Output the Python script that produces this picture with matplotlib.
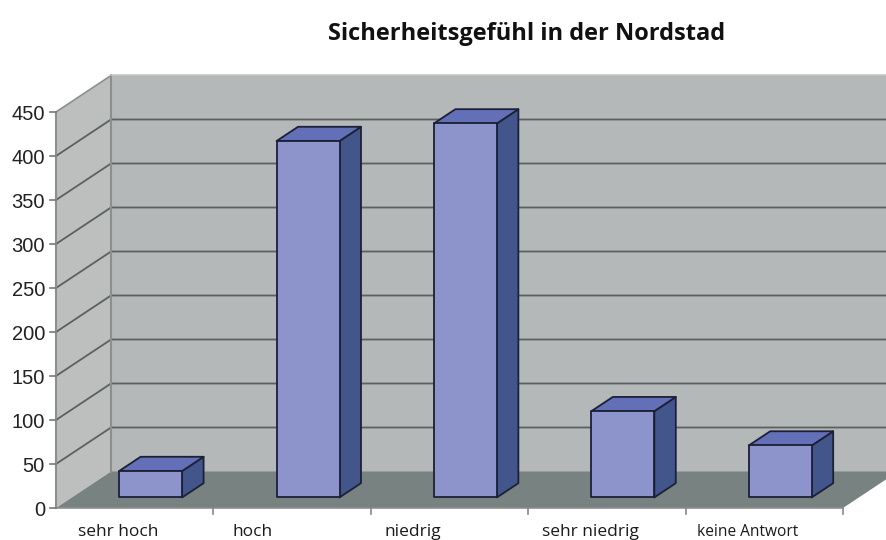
import numpy as np
import matplotlib.pyplot as plt
from matplotlib.patches import Polygon

title = 'Sicherheitsgefühl in der Nordstad'
categories = ['sehr hoch', 'hoch', 'niedrig', 'sehr niedrig', 'keine Antwort']
values = [30, 405, 425, 98, 59]
y_ticks = [0, 50, 100, 150, 200, 250, 300, 350, 400, 450]
y_top = 450

# pixel layout of the picture
W, H = 887, 540
x0_px, y0_px = 56, 508        # front corner of the floor
cat_px = 157.4                # one category
val_px = 0.88                 # one value unit
dx_cat = 55 / cat_px          # full depth, in category units
dy_val = 36.5 / val_px        # full depth, in value units
bar_w = 0.40
d_front, d_back = 0.29, 0.68

wall_back = '#b5b8b8'
wall_side = '#bcbfbe'
floor_col = '#788280'
bar_front = '#8c94cb'
bar_top = '#6370b8'
bar_side = '#43568c'
grid_col = '#5c6061'
edge_col = '#8b8f8f'
dark = '#1c2036'

fig = plt.figure(figsize=(W / 100, H / 100), dpi=100)
ax = fig.add_axes([0, 0, 1, 1])
ax.set_xlim(-x0_px / cat_px, (W - x0_px) / cat_px)
ax.set_ylim(-(H - y0_px) / val_px, y0_px / val_px)
ax.axis('off')


def proj(x, v, d):
    # oblique projection: d=0 front, d=1 back wall
    return (x + d * dx_cat, v + d * dy_val)


def face(pts, color, ec=None, lw=0, z=1):
    ax.add_patch(Polygon(pts, closed=True, fc=color, ec=ec or color, lw=lw, zorder=z,
                         joinstyle='round'))


n = len(categories)
# walls and floor
face([proj(0, 0, 1), proj(n + 1, 0, 1), proj(n + 1, y_top, 1), proj(0, y_top, 1)], wall_back)
face([proj(0, 0, 0), proj(0, 0, 1), proj(0, y_top, 1), proj(0, y_top, 0)], wall_side)
face([proj(0, 0, 0), proj(n, 0, 0), proj(n, 0, 1), proj(0, 0, 1)], floor_col, z=1.5)

# grid, the top one is only the lighter wall edge
for v in y_ticks[1:-1]:
    xs, ys = zip(proj(0, v, 0), proj(0, v, 1), proj(n + 1, v, 1))
    ax.plot(xs, ys, color=grid_col, lw=1.3, zorder=2)

# wall edges
ax.plot(*zip(proj(0, 0, 1), proj(0, y_top, 1)), color=edge_col, lw=1.5, zorder=2)
ax.plot(*zip(proj(0, 0, 0), proj(0, y_top, 0)), color=edge_col, lw=1.5, zorder=2)
ax.plot(*zip(proj(0, y_top, 0), proj(0, y_top, 1)), color=edge_col, lw=1.2, zorder=2)
ax.plot(*zip(proj(0, y_top, 1), proj(n + 1, y_top, 1)), color='#c4c6c6', lw=1.2, zorder=2)
ax.plot(*zip(proj(0, 0, 0), proj(n, 0, 0)), color=edge_col, lw=1.2, zorder=2)

# y ticks + labels
for v in y_ticks:
    xa, ya = proj(0, v, 0)
    ax.plot([xa - 6 / cat_px, xa], [ya, ya], color='#777777', lw=1.2, zorder=2)
    ax.text(xa - 11 / cat_px, ya - 3 / val_px, str(v), ha='right', va='center',
            family='Liberation Sans', fontsize=14.5, color='#222222')

# category ticks
for i in range(1, n + 1):
    ax.plot([i, i], [0, -6 / val_px], color='#888888', lw=1.2, zorder=2)

# bars
for i, v in enumerate(values):
    l = i + 0.5 - bar_w / 2
    r = i + 0.5 + bar_w / 2
    front = [proj(l, 0, d_front), proj(r, 0, d_front), proj(r, v, d_front), proj(l, v, d_front)]
    side = [proj(r, 0, d_front), proj(r, 0, d_back), proj(r, v, d_back), proj(r, v, d_front)]
    top = [proj(l, v, d_front), proj(r, v, d_front), proj(r, v, d_back), proj(l, v, d_back)]
    face(side, bar_side, dark, 1.3, 3)
    face(top, bar_top, dark, 1.3, 3)
    face(front, bar_front, dark, 1.3, 3.1)

# category labels sit off-centre in the picture
label_px = [118, 253, 413, 590, 748]
label_size = [12.5, 12.5, 12.5, 12.5, 11.2]
for name, xp, fs in zip(categories, label_px, label_size):
    ax.text((xp - x0_px) / cat_px, -(532 - y0_px) / val_px, name, ha='center', va='center',
            family='Open Sans', fontsize=fs, color='#1a1a1a')

ax.text((527 - x0_px) / cat_px, (y0_px - 34) / val_px, title, ha='center', va='center',
        family='Open Sans', fontsize=17, fontweight='bold', color='#111111')

fig.savefig('out.png', dpi=100)
